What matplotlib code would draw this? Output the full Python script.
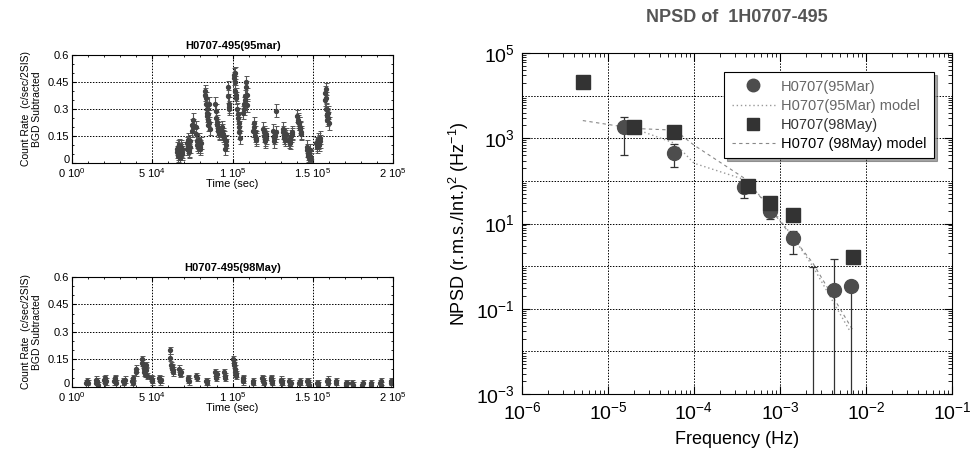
import numpy as np
import matplotlib
matplotlib.use("Agg")
import matplotlib.pyplot as plt
import matplotlib.transforms as mtransforms
from matplotlib.ticker import MultipleLocator, FixedLocator, LogLocator, NullFormatter

plt.rcParams["font.family"] = ["Liberation Sans", "DejaVu Sans"]
plt.rcParams["mathtext.fontset"] = "custom"
plt.rcParams["mathtext.rm"] = "Liberation Sans"
plt.rcParams["mathtext.it"] = "Liberation Sans:italic"

# --- light curve 95mar (time in ks, count rate) ---
t_95 = [65.3, 65.6, 65.8, 66.1, 66.3, 66.6, 66.8, 67.1, 67.3, 67.6, 67.8, 68.1, 68.3, 68.6, 68.8,
        71.5, 71.8, 72.0, 72.3, 72.5, 72.8, 73.0, 73.3, 73.5,
        74.6, 74.9, 75.1, 75.4, 75.6,
        77.2, 77.5, 77.8, 78.1, 78.4, 78.7, 79.0, 79.3, 79.6, 79.9, 80.2,
        82.8, 83.0, 83.3, 83.5, 83.8, 84.0, 84.3, 84.5, 84.8, 85.0, 85.3, 85.5, 85.8,
        89.2, 89.5, 89.8, 90.1, 90.4, 90.7, 91.0, 91.3, 91.6,
        93.2, 93.5, 93.8, 94.1, 94.4,
        95.4, 95.7, 95.9,
        97.0, 97.2, 97.5, 97.8, 98.0,
        100.8, 101.0, 101.3, 101.5, 101.8, 102.0, 102.3,
        103.0, 103.2, 103.5, 103.8, 104.0, 104.2, 104.5,
        106.8, 107.1, 107.4, 107.7, 108.0, 108.3, 108.6, 108.9, 109.2,
        113.0, 113.3, 113.6, 113.9, 114.2, 114.5, 114.8,
        119.2, 119.5, 119.8, 120.1, 120.4, 120.7, 121.0,
        125.2, 125.5, 125.8, 126.1, 126.4, 126.8, 127.3,
        131.2, 131.5, 131.8, 132.1, 132.4, 132.7, 133.0,
        134.8, 135.2, 135.6, 136.0, 136.4, 136.8, 137.2,
        140.4, 140.7, 141.0, 141.3, 141.6, 141.9, 142.2, 142.5, 142.8,
        146.2, 146.5, 146.8, 147.1, 147.4, 147.7, 148.0, 148.3, 148.6,
        152.2, 152.5, 152.8, 153.1, 153.4, 153.7, 154.0, 154.3, 154.6,
        157.4, 157.6, 157.9, 158.1, 158.4, 158.6, 158.9, 159.1, 159.4, 159.6, 159.9]
r_95 = [0.06, 0.08, 0.09, 0.05, 0.04, 0.07, 0.10, 0.06, 0.03, 0.05, 0.07, 0.09, 0.05, 0.06, 0.08,
        0.08, 0.11, 0.13, 0.09, 0.10, 0.07, 0.06, 0.09, 0.12,
        0.18, 0.21, 0.24, 0.20, 0.21,
        0.20, 0.16, 0.12, 0.10, 0.09, 0.11, 0.13, 0.10, 0.08, 0.09, 0.11,
        0.40, 0.38, 0.36, 0.33, 0.30, 0.28, 0.26, 0.24, 0.21, 0.27, 0.33, 0.22, 0.19,
        0.33, 0.29, 0.25, 0.23, 0.21, 0.19, 0.18, 0.17, 0.16,
        0.20, 0.18, 0.16, 0.15, 0.14,
        0.08, 0.10, 0.12,
        0.42, 0.37, 0.33, 0.31, 0.30,
        0.47, 0.49, 0.50, 0.45, 0.40, 0.38, 0.36,
        0.30, 0.27, 0.25, 0.22, 0.20, 0.17, 0.14,
        0.28, 0.30, 0.33, 0.35, 0.37, 0.42, 0.45, 0.38, 0.32,
        0.18, 0.20, 0.22, 0.17, 0.15, 0.14, 0.13,
        0.19, 0.17, 0.15, 0.13, 0.12, 0.14, 0.16,
        0.18, 0.15, 0.12, 0.14, 0.15, 0.29, 0.17,
        0.19, 0.17, 0.15, 0.14, 0.13, 0.15, 0.16,
        0.13, 0.12, 0.11, 0.13, 0.15, 0.16, 0.17,
        0.26, 0.24, 0.23, 0.22, 0.22, 0.20, 0.19, 0.17, 0.16,
        0.09, 0.07, 0.05, 0.04, 0.03, 0.05, 0.07, 0.04, 0.02,
        0.11, 0.10, 0.09, 0.11, 0.13, 0.12, 0.10, 0.12, 0.14,
        0.35, 0.39, 0.41, 0.36, 0.30, 0.27, 0.24, 0.26, 0.28, 0.25, 0.22]
err_95 = 0.035

# --- light curve 98May ---
t_98 = [9.0, 9.5, 10.0,
        14.9, 15.2, 15.5, 15.9,
        20.1, 20.4, 20.7, 21.1,
        26.3, 26.6, 26.9, 27.3,
        32.0, 32.4, 32.8,
        37.4, 37.8, 38.2, 39.6, 39.9,
        43.4, 43.8, 44.2, 44.6, 45.0, 45.4, 45.8, 46.2, 46.6,
        49.3, 49.7, 50.1,
        54.4, 54.8, 55.2,
        61.0, 61.3, 61.6, 62.0, 62.3, 62.7, 63.0,
        66.9, 67.3, 67.7,
        72.0, 72.4, 72.8,
        77.3, 77.7,
        83.4, 83.8, 84.2,
        89.2, 89.5, 89.8, 90.1,
        94.8, 95.1, 95.4,
        100.3, 100.6, 101.0, 101.3, 101.7, 102.0, 102.4,
        106.2, 106.5, 106.8,
        112.5, 112.9,
        118.6, 118.9, 119.2, 119.5,
        123.8, 124.1, 124.4, 124.7,
        130.0, 130.3, 130.6, 130.9,
        135.2, 135.5, 135.8, 136.1,
        141.4, 141.8, 142.2,
        146.6, 146.9, 147.2, 147.5,
        152.8, 153.1, 153.4,
        159.0, 159.3, 159.6,
        164.3, 164.7,
        170.4, 170.7, 171.0,
        174.6, 175.0,
        180.8, 181.2,
        186.0, 186.4,
        192.1, 192.4, 192.7,
        198.4, 198.8]
r_98 = [0.02, 0.03, 0.02,
        0.02, 0.04, 0.03, 0.01,
        0.04, 0.05, 0.02, 0.03,
        0.03, 0.05, 0.04, 0.02,
        0.03, 0.02, 0.04,
        0.03, 0.05, 0.02, 0.08, 0.10,
        0.13, 0.15, 0.12, 0.10, 0.08, 0.07, 0.12, 0.09, 0.06,
        0.05, 0.03, 0.04,
        0.05, 0.03, 0.04,
        0.20, 0.16, 0.12, 0.10, 0.11, 0.08, 0.09,
        0.10, 0.07, 0.08,
        0.05, 0.04, 0.03,
        0.06, 0.05,
        0.03, 0.03, 0.02,
        0.08, 0.06, 0.05, 0.07,
        0.08, 0.06, 0.05,
        0.15, 0.13, 0.12, 0.10, 0.08, 0.07, 0.06,
        0.05, 0.03, 0.04,
        0.02, 0.03,
        0.05, 0.04, 0.03, 0.02,
        0.05, 0.04, 0.03, 0.02,
        0.04, 0.03, 0.02, 0.03,
        0.03, 0.02, 0.01, 0.02,
        0.02, 0.03, 0.02,
        0.03, 0.02, 0.03, 0.01,
        0.02, 0.01, 0.02,
        0.03, 0.02, 0.04,
        0.02, 0.03,
        0.02, 0.01, 0.02,
        0.02, 0.01,
        0.01, 0.02,
        0.01, 0.02,
        0.02, 0.01, 0.03,
        0.02, 0.03]
err_98 = 0.018

# --- NPSD 95Mar (circles) ---
f_95 = [1.55e-5, 5.9e-5, 3.8e-4, 7.6e-4, 1.4e-3, 2.4e-3, 4.3e-3, 6.7e-3]
p_95 = [1.8e3, 457, 72, 19.5, 4.5, 1e-4, 0.28, 0.35]
p_95_lo = [400, 215, 40, 12.9, 1.9, 1e-5, 1e-5, 1e-5]
p_95_hi = [3.1e3, 725, 72, 19.5, 6.8, 0.95, 1.45, 0.35]

# --- NPSD 98May (squares) ---
f_98 = [5.1e-6, 2.0e-5, 5.9e-5, 4.3e-4, 7.6e-4, 1.4e-3, 7.1e-3]
p_98 = [2.1e4, 1.8e3, 1.4e3, 76, 31, 16, 1.65]

# --- models ---
fm_95 = [1.55e-5, 2.0e-5, 6.0e-5, 1.0e-4, 4.0e-4, 8.0e-4, 1.4e-3, 2.4e-3, 6.5e-3]
pm_95 = [1.9e3, 1.7e3, 760, 260, 105, 22, 5.0, 1.0, 0.03]
fm_98 = [5.1e-6, 2.0e-5, 6.0e-5, 1.0e-4, 4.0e-4, 8.0e-4, 2.4e-3, 7.0e-3]
pm_98 = [2600, 1700, 1550, 690, 110, 20, 1.2, 0.032]

fig = plt.figure(figsize=(9.76, 4.55), dpi=100)
ax1 = fig.add_axes([0.0738, 0.6418, 0.329, 0.2374])
ax2 = fig.add_axes([0.0738, 0.1495, 0.329, 0.2418])
ax3 = fig.add_axes([0.5348, 0.134, 0.4406, 0.7495])

grid_kw = dict(color="black", linestyle=(0, (1.5, 1.5)), linewidth=0.7)
xtick_lab = ["0 10$^0$", "5 10$^4$", "1 10$^5$", "1.5 10$^5$", "2 10$^5$"]
nudge_up = mtransforms.ScaledTranslation(0, 3 / 72, fig.dpi_scale_trans)

for ax, t, r, e, ttl in [(ax1, t_95, r_95, err_95, "H0707-495(95mar)"),
                         (ax2, t_98, r_98, err_98, "H0707-495(98May)")]:
    ax.errorbar(np.array(t) * 1000, r, yerr=e, fmt="o", ms=2.8, color="#444444",
                ecolor="#555555", elinewidth=0.8, capsize=1.8, capthick=0.7)
    ax.set_xlim(0, 2e5)
    ax.set_ylim(0, 0.6)
    ax.xaxis.set_major_locator(FixedLocator([0, 5e4, 1e5, 1.5e5, 2e5]))
    ax.set_xticklabels(xtick_lab)
    ax.xaxis.set_minor_locator(MultipleLocator(1e4))
    ax.yaxis.set_major_locator(FixedLocator([0, 0.15, 0.3, 0.45, 0.6]))
    ax.set_yticklabels(["0", "0.15", "0.3", "0.45", "0.6"])
    ax.yaxis.set_minor_locator(MultipleLocator(0.05))
    ax.tick_params(which="both", direction="in", top=True, right=True, labelsize=8, pad=2)
    ax.tick_params(axis="x", pad=2.5)
    ax.tick_params(which="major", length=3)
    ax.tick_params(which="minor", length=1.5)
    lab0 = ax.get_yticklabels()[0]
    lab0.set_transform(lab0.get_transform() + nudge_up)
    ax.grid(True, which="major", **grid_kw)
    ax.set_title(ttl, fontsize=8, fontweight="bold", pad=4)
    ax.set_xlabel("Time (sec)", fontsize=8, labelpad=-1)
    ax.set_ylabel("Count Rate  (c/sec/2SIS)\nBGD Subtracted", fontsize=7.5, labelpad=4, linespacing=1.1)

# NPSD panel
ax3.plot(fm_95, pm_95, linestyle=(0, (1, 2)), color="#999999", linewidth=1.0,
         label="H0707(95Mar) model", zorder=2)
ax3.plot(fm_98, pm_98, linestyle=(0, (3, 3)), color="#888888", linewidth=0.8,
         label="H0707 (98May) model", zorder=2)
yerr = [np.array(p_95) - np.array(p_95_lo), np.array(p_95_hi) - np.array(p_95)]
ax3.errorbar(f_95, p_95, yerr=yerr, fmt="none", ecolor="#333333", elinewidth=0.9,
             capsize=3, capthick=0.9, zorder=3)
ax3.plot(f_95, p_95, "o", ms=10, color="#4d4d4d", linestyle="none",
         label="H0707(95Mar)", zorder=4)
ax3.plot(f_98, p_98, "s", ms=10, color="#333333", linestyle="none",
         label="H0707(98May)", zorder=4)

ax3.set_xscale("log")
ax3.set_yscale("log")
ax3.set_xlim(1e-6, 1e-1)
ax3.set_ylim(1e-3, 1e5)
ax3.yaxis.set_major_locator(FixedLocator([1e-3, 1e-1, 1e1, 1e3, 1e5]))
ax3.yaxis.set_minor_locator(LogLocator(base=10, subs=np.arange(2, 10), numticks=20))
ax3.yaxis.set_minor_formatter(NullFormatter())
ax3.xaxis.set_major_locator(LogLocator(base=10, numticks=10))
ax3.xaxis.set_minor_locator(LogLocator(base=10, subs=np.arange(2, 10), numticks=20))
ax3.xaxis.set_minor_formatter(NullFormatter())
ax3.tick_params(which="both", direction="in", top=True, right=True, labelsize=14, pad=5)
ax3.tick_params(which="major", length=6)
ax3.tick_params(which="minor", length=3)
for yv in [1e-2, 1e0, 1e2, 1e4]:
    ax3.axhline(yv, zorder=1, **grid_kw)
ax3.grid(True, which="major", zorder=1, **grid_kw)
ax3.set_title("NPSD of  1H0707-495", fontsize=13, fontweight="bold", color="#555555", pad=22)
ax3.set_xlabel("Frequency (Hz)", fontsize=13, labelpad=6)
ax3.set_ylabel("NPSD (r.m.s./Int.)$^2$ (Hz$^{-1}$)", fontsize=13, labelpad=4)

h, l = ax3.get_legend_handles_labels()
order = [2, 0, 3, 1]
leg = ax3.legend([h[i] for i in order], [l[i] for i in order], loc="upper right",
                 bbox_to_anchor=(0.975, 0.965), fontsize=10.5, frameon=True, fancybox=False,
                 shadow=True, edgecolor="black", framealpha=1, handlelength=3.0,
                 borderpad=0.5, labelspacing=0.35, handletextpad=0.4, markerscale=0.9)
leg.get_frame().set_linewidth(0.8)
for txt, c in zip(leg.get_texts(), ["#666666", "#666666", "#333333", "black"]):
    txt.set_color(c)

plt.savefig("out.png", dpi=100)
